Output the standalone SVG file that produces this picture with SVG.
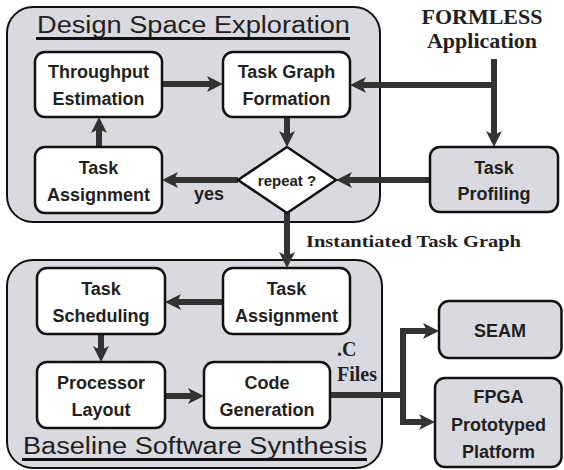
<svg xmlns="http://www.w3.org/2000/svg" width="564" height="470" viewBox="0 0 564 470">
  <style>
    .panel { fill: #d9dadf; stroke: #111; stroke-width: 2; }
    .node { fill: #ffffff; stroke: #111; stroke-width: 2.5; }
    .gray { fill: #d9dadf; stroke: #111; stroke-width: 2.5; }
    .lbl { font-family: "Liberation Sans", Arial, sans-serif; font-weight: bold; font-size: 18px; fill: #231f20; text-anchor: middle; }
    .small { font-size: 15px; }
    .title { font-family: "Liberation Sans", Arial, sans-serif; font-size: 23px; fill: #231f20; }
    .serif { font-family: "Liberation Serif", "Times New Roman", serif; font-weight: bold; fill: #231f20; }
    .uline { stroke: #111; stroke-width: 3; }
    .wire { fill: none; stroke: #333; stroke-width: 6; }
    .arrow { marker-end: url(#head); }
  </style>
  <defs>
    <marker id="head" viewBox="0 0 16 16" refX="5" refY="8" markerWidth="16" markerHeight="16" markerUnits="userSpaceOnUse" orient="auto">
      <path d="M0,0 L16,8 L0,16 L4,8 Z" fill="#333"/>
    </marker>
  </defs>

  <!-- Design Space Exploration panel -->
  <g id="dse-panel">
    <rect class="panel" x="7" y="7" width="373" height="215" rx="26"/>
    <text class="title" x="37" y="33" textLength="313" lengthAdjust="spacingAndGlyphs">Design Space Exploration</text>
    <line class="uline" x1="36" y1="38.5" x2="350" y2="38.5"/>
  </g>

  <!-- Baseline Software Synthesis panel -->
  <g id="bss-panel">
    <rect class="panel" x="7" y="260" width="375" height="208" rx="26"/>
    <text class="title" x="23" y="454" textLength="344" lengthAdjust="spacingAndGlyphs">Baseline Software Synthesis</text>
    <line class="uline" x1="22" y1="459.5" x2="367" y2="459.5"/>
  </g>

  <!-- connectors -->
  <g id="connectors">
    <line class="wire arrow" x1="162" y1="84" x2="212" y2="84"/>
    <line class="wire arrow" x1="99" y1="147" x2="99" y2="128"/>
    <line class="wire arrow" x1="287" y1="117" x2="287" y2="136"/>
    <line class="wire" x1="494" y1="59" x2="494" y2="85"/>
    <line class="wire arrow" x1="494" y1="82" x2="494" y2="136"/>
    <line class="wire arrow" x1="497" y1="85" x2="361" y2="85"/>
    <line class="wire arrow" x1="430" y1="180" x2="347" y2="180"/>
    <line class="wire arrow" x1="238" y1="180" x2="173" y2="180"/>
    <line class="wire arrow" x1="287" y1="213" x2="287" y2="257"/>
    <line class="wire arrow" x1="223" y1="302" x2="176" y2="302"/>
    <line class="wire arrow" x1="101" y1="334" x2="101" y2="351"/>
    <line class="wire arrow" x1="165" y1="396" x2="193" y2="396"/>
    <path class="wire" d="M330,395 H403"/>
    <path class="wire arrow" d="M403,398 V331 H428"/>
    <path class="wire arrow" d="M403,392 V422 H424"/>
  </g>

  <!-- free labels -->
  <g id="labels">
    <text class="serif" x="482" y="24" font-size="22" text-anchor="middle">FORMLESS</text>
    <text class="serif" x="482" y="48" font-size="22" text-anchor="middle">Application</text>
    <text class="serif" x="306" y="247" font-size="17" textLength="215" lengthAdjust="spacingAndGlyphs">Instantiated Task Graph</text>
    <text class="serif" x="337" y="356" font-size="20">.C</text>
    <text class="serif" x="337" y="381" font-size="20">Files</text>
    <text class="lbl" x="209" y="200" font-size="16">yes</text>
  </g>

  <g id="throughput-estimation">
    <rect class="node" x="35" y="52" width="127" height="65" rx="10"/>
    <text class="lbl" x="98.5" y="78">Throughput</text>
    <text class="lbl" x="98.5" y="105">Estimation</text>
  </g>

  <g id="task-graph-formation">
    <rect class="node" x="223" y="52" width="127" height="65" rx="10"/>
    <text class="lbl" x="286.5" y="78">Task Graph</text>
    <text class="lbl" x="286.5" y="105">Formation</text>
  </g>

  <g id="task-assignment-dse">
    <rect class="node" x="35" y="147" width="127" height="66" rx="10"/>
    <text class="lbl" x="98.5" y="174">Task</text>
    <text class="lbl" x="98.5" y="201">Assignment</text>
  </g>

  <g id="repeat-decision">
    <polygon class="node" points="287,147 336,180 287,213 238,180"/>
    <text class="lbl small" x="287" y="186">repeat ?</text>
  </g>

  <g id="task-profiling">
    <rect class="gray" x="430" y="147" width="128" height="65" rx="10"/>
    <text class="lbl" x="494" y="174">Task</text>
    <text class="lbl" x="494" y="200">Profiling</text>
  </g>

  <g id="task-assignment-bss">
    <rect class="node" x="223" y="268" width="127" height="66" rx="10"/>
    <text class="lbl" x="286.5" y="295">Task</text>
    <text class="lbl" x="286.5" y="322">Assignment</text>
  </g>

  <g id="task-scheduling">
    <rect class="node" x="37" y="268" width="128" height="66" rx="10"/>
    <text class="lbl" x="101" y="295">Task</text>
    <text class="lbl" x="101" y="322">Scheduling</text>
  </g>

  <g id="processor-layout">
    <rect class="node" x="37" y="362" width="128" height="66" rx="10"/>
    <text class="lbl" x="101" y="389">Processor</text>
    <text class="lbl" x="101" y="416">Layout</text>
  </g>

  <g id="code-generation">
    <rect class="node" x="204" y="362" width="126" height="66" rx="10"/>
    <text class="lbl" x="267" y="389">Code</text>
    <text class="lbl" x="267" y="416">Generation</text>
  </g>

  <g id="seam">
    <rect class="gray" x="439" y="301" width="122.5" height="57" rx="10"/>
    <text class="lbl" x="500" y="337">SEAM</text>
  </g>

  <g id="fpga-platform">
    <rect class="gray" x="435" y="378" width="126.5" height="89" rx="10"/>
    <text class="lbl" x="498.5" y="403">FPGA</text>
    <text class="lbl" x="498.5" y="431">Prototyped</text>
    <text class="lbl" x="498.5" y="458">Platform</text>
  </g>
</svg>
